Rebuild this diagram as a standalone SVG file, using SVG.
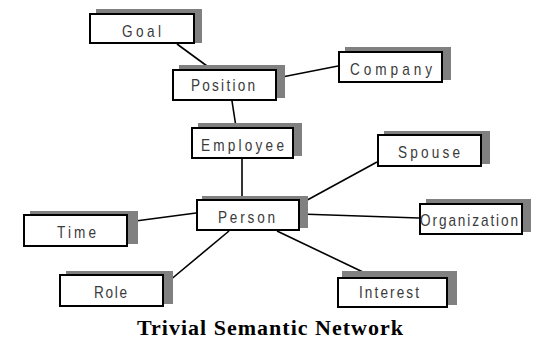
<svg xmlns="http://www.w3.org/2000/svg" width="533" height="340" viewBox="0 0 533 340">
<style>
.sh{fill:#808080;stroke:none}
.bx{fill:#fff;stroke:#000;stroke-width:2}
.lb{font-family:"Liberation Sans",Arial,sans-serif;font-size:16px;fill:#3a3a3a}
.cn line{stroke:#000;stroke-width:1.6}
.title{font-family:"Liberation Serif","Times New Roman",serif;font-weight:bold;font-size:22px;fill:#000}
</style>
<rect width="533" height="340" fill="#fff"/>
<g id="connectors" class="cn">
<line x1="177" y1="44" x2="207" y2="66"/>
<line x1="277" y1="78" x2="338" y2="66"/>
<line x1="232" y1="101" x2="236" y2="127"/>
<line x1="242" y1="159" x2="242" y2="196"/>
<line x1="300" y1="204" x2="377" y2="162"/>
<line x1="300" y1="214" x2="419" y2="218"/>
<line x1="128" y1="222" x2="196" y2="213"/>
<line x1="229" y1="231" x2="169" y2="281"/>
<line x1="277" y1="231" x2="365" y2="273"/>
</g>
<g id="goal">
<rect class="sh" x="96" y="9" width="106" height="34"/>
<rect class="bx" x="90" y="14" width="104" height="29"/>
<text class="lb" transform="matrix(0.85 0 0 1 122 0)" x="0" y="37" textLength="45.9" lengthAdjust="spacing">Goal</text>
</g>
<g id="position">
<rect class="sh" x="179" y="65" width="106" height="33"/>
<rect class="bx" x="173" y="70" width="103" height="30"/>
<text class="lb" transform="matrix(0.85 0 0 1 191 0)" x="0" y="91" textLength="75.3" lengthAdjust="spacing">Position</text>
</g>
<g id="company">
<rect class="sh" x="345" y="47" width="106" height="33"/>
<rect class="bx" x="339" y="52" width="103" height="30"/>
<text class="lb" transform="matrix(0.85 0 0 1 350 0)" x="0" y="75" textLength="96.5" lengthAdjust="spacing">Company</text>
</g>
<g id="employee">
<rect class="sh" x="198" y="123" width="104" height="33"/>
<rect class="bx" x="192" y="128" width="101" height="30"/>
<text class="lb" transform="matrix(0.85 0 0 1 201 0)" x="0" y="151" textLength="97.6" lengthAdjust="spacing">Employee</text>
</g>
<g id="person">
<rect class="sh" x="202" y="196" width="106" height="32"/>
<rect class="bx" x="197" y="200" width="102" height="30"/>
<text class="lb" transform="matrix(0.85 0 0 1 218 0)" x="0" y="223" textLength="67.1" lengthAdjust="spacing">Person</text>
</g>
<g id="spouse">
<rect class="sh" x="384" y="131" width="106" height="33"/>
<rect class="bx" x="378" y="135" width="103" height="31"/>
<text class="lb" transform="matrix(0.85 0 0 1 398 0)" x="0" y="158" textLength="72.9" lengthAdjust="spacing">Spouse</text>
</g>
<g id="organization">
<rect class="sh" x="426" y="199" width="105" height="33"/>
<rect class="bx" x="420" y="204" width="102" height="30"/>
<text class="lb" transform="matrix(0.85 0 0 1 420 0)" x="0" y="226" textLength="115.3" lengthAdjust="spacing">Organization</text>
</g>
<g id="time">
<rect class="sh" x="30" y="211" width="108" height="33"/>
<rect class="bx" x="24" y="215" width="103" height="31"/>
<text class="lb" transform="matrix(0.85 0 0 1 57 0)" x="0" y="238" textLength="45.9" lengthAdjust="spacing">Time</text>
</g>
<g id="role">
<rect class="sh" x="66" y="271" width="107" height="33"/>
<rect class="bx" x="60" y="275" width="103" height="31"/>
<text class="lb" transform="matrix(0.85 0 0 1 94 0)" x="0" y="298" textLength="38.8" lengthAdjust="spacing">Role</text>
</g>
<g id="interest">
<rect class="sh" x="342" y="271" width="115" height="34"/>
<rect class="bx" x="338" y="278" width="109" height="29"/>
<text class="lb" transform="matrix(0.85 0 0 1 359 0)" x="0" y="298" textLength="70.6" lengthAdjust="spacing">Interest</text>
</g>
<text class="title" x="137" y="335" textLength="266" lengthAdjust="spacing">Trivial Semantic Network</text>
</svg>
